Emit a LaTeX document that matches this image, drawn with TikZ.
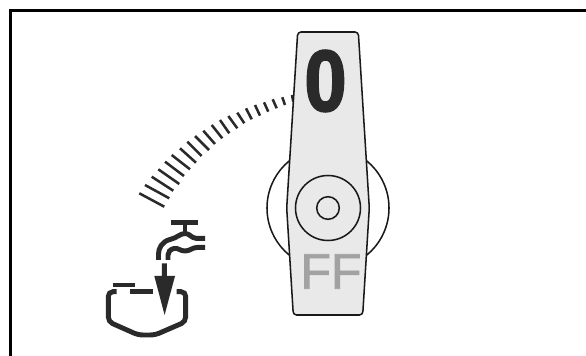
\documentclass[tikz,border=0pt]{standalone}
\usepackage{fontspec}
\setmainfont{Liberation Sans}
\newfontfamily\zerofont[FakeBold=2.5]{Liberation Sans Bold}
\newfontfamily\fffont[FakeBold=1.5]{Liberation Sans}
\usepackage{xcolor}
\definecolor{oilInk}{HTML}{2A2A2A}
\definecolor{leverFill}{HTML}{E9E9E9}
\definecolor{leverGray}{HTML}{A2A2A2}
\tikzset{
  frameline/.style={draw=black, line width=2.25pt, line cap=butt, miter limit=10},
  leverline/.style={draw=black!90, line width=1.15pt},
  tickline/.style={draw=oilInk, line width=1.9pt},
  iconline/.style={draw=oilInk, line width=3.7pt},
}

\begin{document}
\begin{tikzpicture}[x=0.75pt,y=-0.75pt]
    \useasboundingbox (0,0) rectangle (586,356);
    % frame
    \draw[frameline] (10.5,356) -- (10.5,10.5) -- (586,10.5);
    % scale ticks
    \foreach \xa/\ya/\xb/\yb in {
        139.3/193.3/164.3/206.7, 145/185/169.3/198.3, 151.7/176.7/173.3/190.7,
        158.3/169.3/179.3/184, 165/161.7/184/176, 171.7/155/190/169.3,
        180/148.3/196/162.7, 187.3/141.7/201.7/156, 195/136/209/150,
        203.3/130.7/215/144, 211.7/125/222.3/138.3, 220/120/229.3/133.3,
        228.3/116/237.3/128.3, 237.3/112.7/244.3/123.3, 246/108.3/251.7/119.3,
        255/105/260/115.7, 264/102.3/268.3/111.7, 272.7/99.3/276.7/108.3,
        282.3/97.3/285/105, 292/95/293.3/101.7} {
        \draw[tickline] (\xa,\ya) -- (\xb,\yb);
    }
    % lever
    \draw[leverline] (328,208) circle (61);
    \draw[leverline, fill=leverFill, rounded corners=2.5pt] (297.7,32) -- (358.3,32) -- (369.3,208)
        -- (362.7,315) -- (293.3,315) -- (286.7,208) -- cycle;
    \draw[leverline] (328,208) circle (32.5);
    \draw[leverline] (328,208) circle (11.3);
    \node[font=\zerofont\fontsize{65pt}{65pt}\selectfont, text=oilInk, inner sep=0pt, xscale=0.87] (zero) at (325.5,81) {0};
    \node[font=\fffont\fontsize{37.5pt}{37.5pt}\selectfont, text=leverGray, inner sep=0pt] (ff) at (331,271.5) {FF};
    % tap
    \draw[iconline] (171,222.7) -- (198.3,222.7);
    \draw[iconline] (185,222.7) -- (185,233);
    \draw[iconline] (205,238.3) -- (196,238.3) .. controls (191,238) and (190,233.5) .. (185,233.5)
        .. controls (180,233.5) and (177,238) .. (170,239.5)
        .. controls (162,241.5) and (158.5,248) .. (158.5,254) -- (158.5,260);
    \draw[iconline] (205,247.3) -- (198,247.3) .. controls (192,247.5) and (190,251) .. (185,251)
        .. controls (180,251) and (178,247.5) .. (174,248.5)
        .. controls (170,249.5) and (168,252) .. (168,255) -- (168,260);
    % arrow
    \fill[oilInk] (161.8,263.3) -- (166.8,263.3) -- (166.8,276) -- (175,276) -- (164.6,315)
        -- (154.3,276) -- (161.8,276) -- cycle;
    % oil pan
    \draw[iconline, rounded corners=3.5pt] (116.7,291.7) -- (108.3,291.7) -- (108.3,321.7) -- (138.3,335)
        -- (155,335) -- (185.7,321.7) -- (185.7,291.7) -- (176.7,291.7);
    \draw[iconline] (130,291.7) -- (153.3,291.7);
    \draw[iconline] (113.3,285) -- (135,285);
\end{tikzpicture}
\end{document}
